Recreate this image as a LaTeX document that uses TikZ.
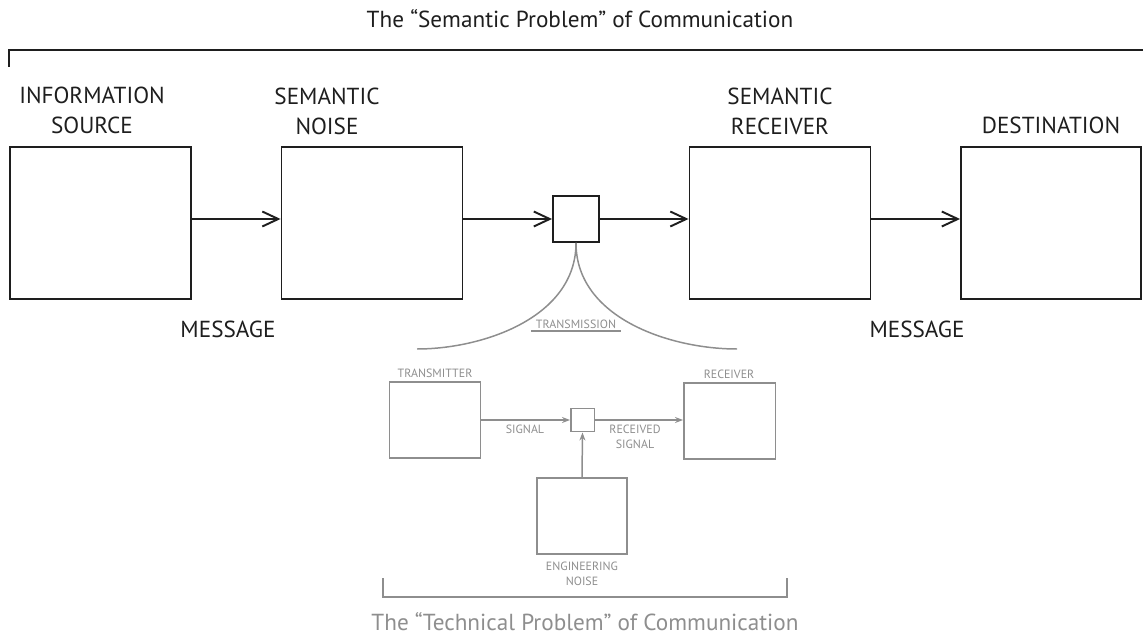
\documentclass[tikz,border=0pt]{standalone}
\usepackage{fontspec}
\setmainfont{PT Sans}
\usepackage{tikz}
\usetikzlibrary{arrows.meta, positioning, calc}

\definecolor{inkdark}{HTML}{1E1E1E}
\definecolor{inkgray}{HTML}{8E8E8E}

\tikzset{
    bigbox/.style={rectangle, draw=inkdark, line width=1.1pt, minimum width=3.62cm, minimum height=3.04cm, inner sep=0pt},
    chanbox/.style={rectangle, draw=inkdark, line width=1.1pt, minimum size=0.92cm, inner sep=0pt},
    graybox/.style={rectangle, draw=inkgray, line width=0.85pt, minimum width=1.83cm, minimum height=1.52cm, inner sep=0pt},
    noisesq/.style={rectangle, draw=inkgray, line width=0.85pt, minimum size=0.47cm, inner sep=0pt},
    biglabel/.style={text=inkdark, align=center, inner sep=0pt, font=\fontsize{13.2}{17}\selectfont},
    graylabel/.style={text=inkgray, align=center, inner sep=0pt, font=\fontsize{6.8}{8.5}\selectfont},
    darkline/.style={draw=inkdark, line width=1.1pt},
    darkarrow/.style={draw=inkdark, line width=1.1pt, -{Straight Barb[length=0.32cm, width=0.3cm, line width=1.1pt]}},
    grayline/.style={draw=inkgray, line width=0.85pt},
    grayarrow/.style={draw=inkgray, line width=0.85pt, -{Stealth[length=0.16cm, width=0.12cm]}}
}

\begin{document}
\begin{tikzpicture}[x=0.02cm, y=-0.02cm]
    \useasboundingbox (0,0) rectangle (1143,642);

    % semantic level
    \node [biglabel, anchor=base] (semtitle) at (580,28) {The “Semantic Problem” of Communication};
    \coordinate (semL) at (9,67);
    \coordinate (semR) at (1143,50);
    \draw [darkline] (semL) -- (semL |- semR) -- (semR);

    \node [bigbox] (src) at (100.5,223) {};
    \node [bigbox] (snoise) at (372,223) {};
    \node [bigbox] (srecv) at (780,223) {};
    \node [bigbox, minimum width=3.6cm] (dest) at (1051,223) {};
    \node [chanbox] (chan) at (576,219) {};

    \node [biglabel, anchor=base] (srclbl) at (92,133) {INFORMATION\\SOURCE};
    \node [biglabel, anchor=base] (snoiselbl) at (327,134) {SEMANTIC\\NOISE};
    \node [biglabel, anchor=base] (srecvlbl) at (780,134) {SEMANTIC\\RECEIVER};
    \node [biglabel, anchor=base] (destlbl) at (1051,133) {DESTINATION};

    \draw [darkarrow] (src.east |- chan) -- (snoise.west |- chan);
    \draw [darkarrow] (snoise.east |- chan) -- (chan.west);
    \draw [darkarrow] (chan.east) -- (srecv.west |- chan);
    \draw [darkarrow] (srecv.east |- chan) -- (dest.west |- chan);

    \node [biglabel, anchor=base] (msgL) at (228,337) {MESSAGE};
    \node [biglabel, anchor=base] (msgR) at (917,337) {MESSAGE};

    % zoom into the channel
    \coordinate (fanL) at (417,349);
    \coordinate (fanR) at (737,349);
    \draw [grayline] (chan.south) .. controls (576,318) and (482,349) .. (fanL);
    \draw [grayline] (chan.south) .. controls (576,318) and (670,349) .. (fanR);
    \node [graylabel, anchor=base, inner xsep=2.5pt, inner ysep=1.4pt] (tmsn) at (576,328) {TRANSMISSION};
    \draw [grayline, line width=0.7pt] (tmsn.south west) -- (tmsn.south east);

    % technical level
    \node [graybox] (tx) at (435,420) {};
    \node [graybox] (rx) at (729.5,421) {};
    \node [graybox, minimum width=1.8cm] (eng) at (582,516) {};
    \node [noisesq] (nsq) at (582.5,420) {};

    \node [graylabel, anchor=base] (txlbl) at (435,377) {TRANSMITTER};
    \node [graylabel, anchor=base] (rxlbl) at (729,378) {RECEIVER};
    \node [graylabel, anchor=base] (siglbl) at (525,433) {SIGNAL};
    \node [graylabel, anchor=base] (rsiglbl) at (635,448) {RECEIVED\\SIGNAL};
    \node [graylabel, anchor=base] (englbl) at (582,585) {ENGINEERING\\NOISE};

    \draw [grayarrow] (tx.east |- nsq) -- (nsq.west);
    \draw [grayarrow] (nsq.east) -- (rx.west |- nsq);
    \draw [grayarrow] (eng.north) -- (nsq.south);

    \coordinate (tecL) at (383,578);
    \coordinate (tecR) at (787,597);
    \draw [grayline] (tecL) -- (tecL |- tecR) -- (tecR) -- (tecR |- tecL);
    \node [biglabel, text=inkgray, anchor=base] (tectitle) at (585,630) {The “Technical Problem” of Communication};
\end{tikzpicture}
\end{document}
